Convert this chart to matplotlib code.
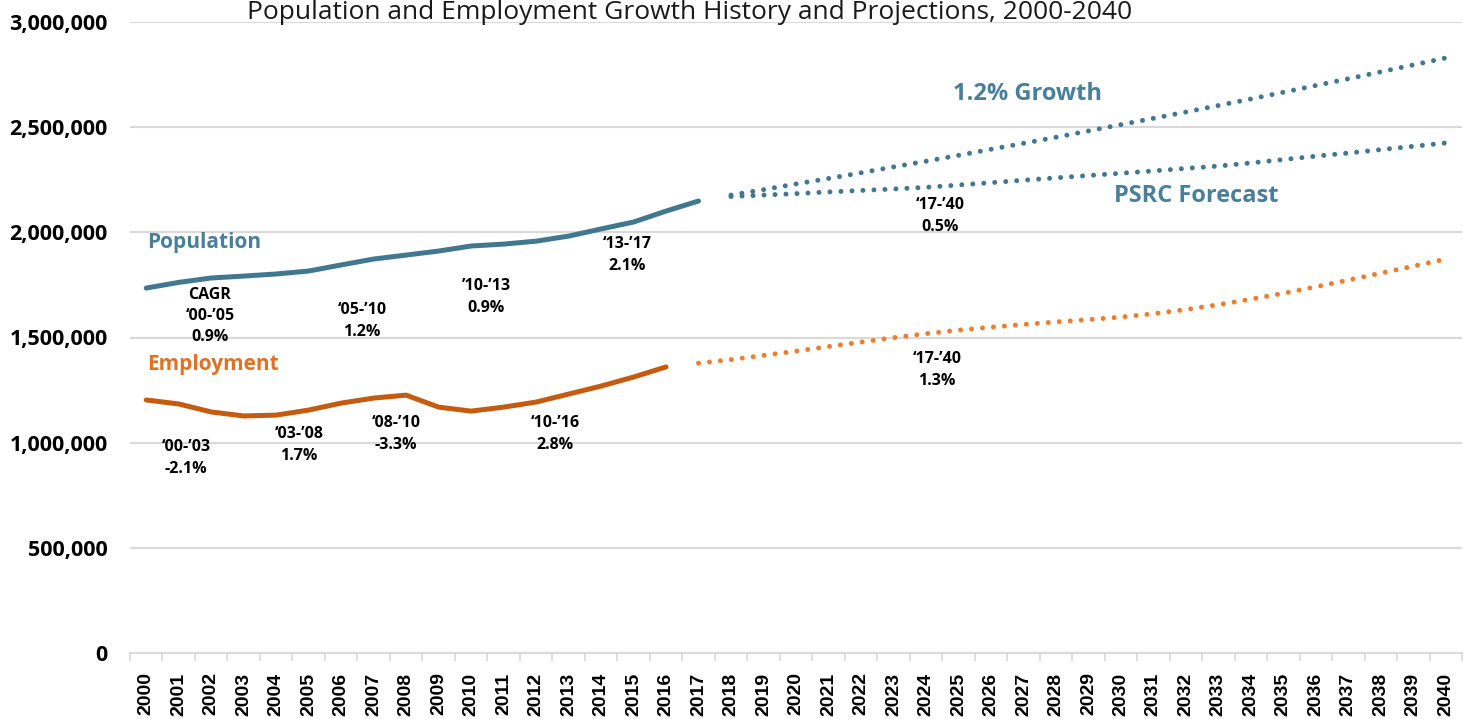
import matplotlib
matplotlib.use("Agg")
import matplotlib.pyplot as plt
from matplotlib.ticker import FuncFormatter, MultipleLocator

# history
pop_years = list(range(2000, 2018))
population = [1735000, 1762000, 1783000, 1792000, 1802000, 1816000, 1845000, 1873000, 1892000,
              1911000, 1935000, 1944000, 1958000, 1982000, 2016000, 2049000, 2101000, 2149000]
emp_years = list(range(2000, 2017))
employment = [1203000, 1184000, 1146000, 1127000, 1131000, 1155000, 1188000, 1212000, 1226000,
              1169000, 1150000, 1169000, 1193000, 1231000, 1269000, 1312000, 1360000]

# projections
fc_years = list(range(2018, 2041))
pop_growth = [2177000, 2203000, 2230000, 2256000, 2283000, 2311000, 2338000, 2366000, 2395000,
              2423000, 2452000, 2482000, 2512000, 2542000, 2572000, 2603000, 2634000, 2666000,
              2698000, 2730000, 2763000, 2796000, 2829000]
pop_psrc = [2170000, 2177000, 2184000, 2192000, 2199000, 2206000, 2214000, 2225000, 2236000,
            2248000, 2259000, 2270000, 2281000, 2292000, 2304000, 2315000, 2330000, 2346000,
            2362000, 2377000, 2393000, 2409000, 2425000]
emp_fc_years = list(range(2017, 2041))
emp_forecast = [1378000, 1395000, 1415000, 1435000, 1457000, 1478000, 1499000, 1518000, 1535000,
                1549000, 1562000, 1574000, 1585000, 1597000, 1613000, 1633000, 1656000, 1682000,
                1710000, 1741000, 1773000, 1806000, 1839000, 1873000]

# growth-rate labels: (text, x, y)
cagr_labels = [
    ("CAGR\n\u201800-\u201905\n0.9%", 2001.96, 1602000),
    ("\u201805-\u201910\n1.2%", 2006.64, 1578000),
    ("\u201910-\u201913\n0.9%", 2010.46, 1692000),
    ("\u201813-\u201917\n2.1%", 2014.80, 1892000),
    ("\u201817-\u201940\n0.5%", 2024.43, 2077000),
    ("\u201800-\u201903\n-2.1%", 2001.22, 927000),
    ("\u201803-\u201908\n1.7%", 2004.70, 989000),
    ("\u201808-\u201910\n-3.3%", 2007.69, 1041000),
    ("\u201810-\u201916\n2.8%", 2012.58, 1041000),
    ("\u201817-\u201940\n1.3%", 2024.34, 1345000),
]

blue = "#41788F"
blue_txt = "#4A7F99"
dark_orange = "#C55A11"
orange = "#ED7D31"
orange_txt = "#E07226"

plt.rcParams['font.family'] = ['Open Sans', 'DejaVu Sans']

fig = plt.figure(figsize=(14.72, 7.19), dpi=100)
ax = fig.add_axes([130 / 1472, 66 / 719, 1332 / 1472, 631 / 719])

ax.plot(pop_years, population, color=blue, lw=3.6, solid_capstyle='round', zorder=3)
ax.plot(emp_years, employment, color=dark_orange, lw=3.6, solid_capstyle='round', zorder=3)
dots = dict(lw=3.6, dashes=(0.001, 2.2), dash_capstyle='round', zorder=3)
ax.plot(fc_years, pop_growth, color=blue, **dots)
ax.plot(fc_years, pop_psrc, color=blue, **dots)
ax.plot(emp_fc_years, emp_forecast, color=orange, **dots)

ax.set_xlim(1999.5, 2040.5)
ax.set_ylim(0, 3000000)
ax.yaxis.set_major_locator(MultipleLocator(500000))
ax.yaxis.set_major_formatter(FuncFormatter(lambda v, p: f"{int(v):,}"))
ax.grid(axis='y', color='#D9D9D9', lw=1.5, zorder=0)
ax.set_axisbelow(True)

ax.set_xticks(range(2000, 2041))
ax.set_xticklabels([str(y) for y in range(2000, 2041)], rotation=90,
                   fontfamily='Liberation Sans', fontweight='bold', fontsize=14)
ax.set_xticks([y - 0.5 for y in range(2000, 2042)], minor=True)
ax.tick_params(axis='x', which='major', length=0, pad=14)
ax.tick_params(axis='x', which='minor', length=6, color='#D9D9D9', width=1.2)
ax.tick_params(axis='y', length=0, pad=16, labelsize=15.5)
for lab in ax.get_yticklabels():
    lab.set_fontweight('bold')

for s in ['top', 'right', 'left']:
    ax.spines[s].set_visible(False)
ax.spines['bottom'].set_color('#D9D9D9')
ax.spines['bottom'].set_linewidth(1.5)

for txt, x, y in cagr_labels:
    ax.text(x, y, txt, ha='center', va='center', fontsize=11.5, fontweight='bold',
            linespacing=1.45, color='black')

ax.text(2000.02, 1954000, "Population", ha='left', va='center', fontsize=15,
        fontweight='bold', color=blue_txt)
ax.text(2000.02, 1374000, "Employment", ha='left', va='center', fontsize=15,
        fontweight='bold', color=orange_txt)
ax.text(2027.14, 2657000, "1.2% Growth", ha='center', va='center', fontsize=17,
        fontweight='bold', color=blue_txt)
ax.text(2032.31, 2173000, "PSRC Forecast", ha='center', va='center', fontsize=17,
        fontweight='bold', color=blue_txt)

fig.text(690 / 1472, 1 - 19 / 719, "Population and Employment Growth History and Projections, 2000-2040",
         ha='center', va='baseline', fontsize=19, color='#1a1a1a')

fig.savefig("out.png", dpi=100)
